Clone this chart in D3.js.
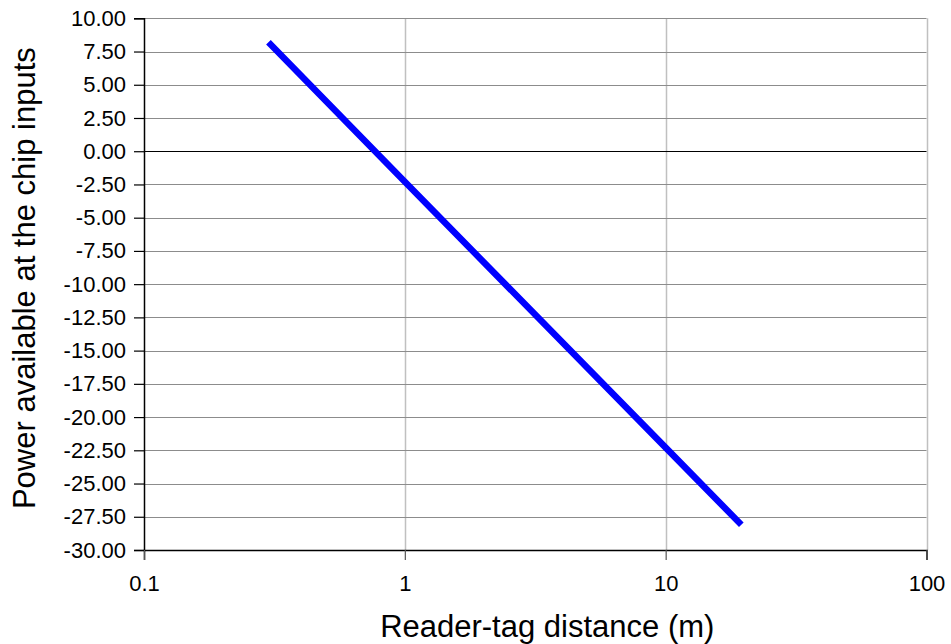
<!DOCTYPE html>
<html>
<head>
<meta charset="utf-8">
<script src="https://cdn.jsdelivr.net/npm/d3@7"></script>
<style>
  html, body { margin: 0; padding: 0; background: #fff; }
  svg { display: block; font-family: "Liberation Sans", Arial, sans-serif; }
</style>
</head>
<body>
<svg id="chart" width="951" height="644"></svg>
<script>
// Received power vs. reader-tag distance (free-space, log distance axis)
const distances = [0.3, 1, 10, 19.5];          // m
const powerValues = [8.2, -2.3, -22.3, -28.1];  // dBm at the chip inputs
const xTickValues = [0.1, 1, 10, 100];
const xTickLabels = ["0.1", "1", "10", "100"];
const yTickValues = [10, 7.5, 5, 2.5, 0, -2.5, -5, -7.5, -10, -12.5, -15, -17.5, -20, -22.5, -25, -27.5, -30];

const xTitle = "Reader-tag distance (m)";
const yTitle = "Power available at the chip inputs";

const margin = { left: 144, top: 18.3, right: 951 - 926.5, bottom: 644 - 550 };
const W = 951, H = 644;
const svg = d3.select("#chart");

const x = d3.scaleLog().domain([0.1, 100]).range([margin.left, W - margin.right]);
const y = d3.scaleLinear().domain([-30, 10]).range([H - margin.bottom, margin.top]);

// vertical gridlines
svg.append("g")
  .selectAll("line")
  .data(xTickValues.slice(1))
  .join("line")
  .attr("x1", d => Math.round(x(d)) + 0.5).attr("x2", d => Math.round(x(d)) + 0.5)
  .attr("y1", y(10)).attr("y2", y(-30))
  .attr("stroke", "#c0c0c0").attr("stroke-width", 1.5);

// horizontal gridlines
svg.append("g")
  .selectAll("line")
  .data(yTickValues.filter(d => d !== 0 && d !== -30))
  .join("line")
  .attr("x1", x(0.1)).attr("x2", x(100))
  .attr("y1", d => Math.round(y(d)) + 0.5).attr("y2", d => Math.round(y(d)) + 0.5)
  .attr("stroke", "#8c8c8c").attr("stroke-width", 1.2);

// zero line
svg.append("line")
  .attr("x1", x(0.1)).attr("x2", x(100))
  .attr("y1", Math.round(y(0)) + 0.5).attr("y2", Math.round(y(0)) + 0.5)
  .attr("stroke", "#000").attr("stroke-width", 1.2);

// y axis
const yAxis = svg.append("g")
  .attr("transform", `translate(${x(0.1)},0)`)
  .call(d3.axisLeft(y).tickValues(yTickValues).tickFormat(d3.format(".2f")).tickSize(10).tickPadding(8));
yAxis.select(".domain").attr("stroke", "#000").attr("stroke-width", 1.5);
yAxis.selectAll(".tick line").attr("stroke", "#000").attr("stroke-width", 1.2);
yAxis.selectAll(".tick text").attr("font-size", 22).attr("fill", "#000")
  .attr("font-family", "'Liberation Sans', Arial, sans-serif")
  .text(d => d3.format(".2f")(d).replace("−", "-"));

// x axis
const xAxis = svg.append("g")
  .attr("transform", `translate(0,${y(-30)})`)
  .call(d3.axisBottom(x).tickValues(xTickValues).tickFormat((d, i) => xTickLabels[i]).tickSize(10).tickPadding(15));
xAxis.select(".domain").attr("stroke", "#000").attr("stroke-width", 1.5);
xAxis.selectAll(".tick line").attr("stroke", "#555").attr("stroke-width", 1.2);
xAxis.selectAll(".tick text").attr("font-size", 22).attr("fill", "#000")
  .attr("font-family", "'Liberation Sans', Arial, sans-serif");

// series line
const line = d3.line().x((d, i) => x(distances[i])).y(d => y(d));
svg.append("path")
  .datum(powerValues)
  .attr("d", line)
  .attr("fill", "none")
  .attr("stroke", "#0000ff")
  .attr("stroke-width", 6.5)
  .attr("stroke-linecap", "butt");

// axis titles
svg.append("text")
  .attr("x", (x(0.1) + x(100)) / 2 + 12).attr("y", 637)
  .attr("text-anchor", "middle")
  .attr("font-size", 31)
  .attr("fill", "#000")
  .text(xTitle);

svg.append("text")
  .attr("transform", `translate(35,${(y(10) + y(-30)) / 2 - 6}) rotate(-90)`)
  .attr("text-anchor", "middle")
  .attr("font-size", 31)
  .attr("fill", "#000")
  .text(yTitle);
</script>
</body>
</html>
